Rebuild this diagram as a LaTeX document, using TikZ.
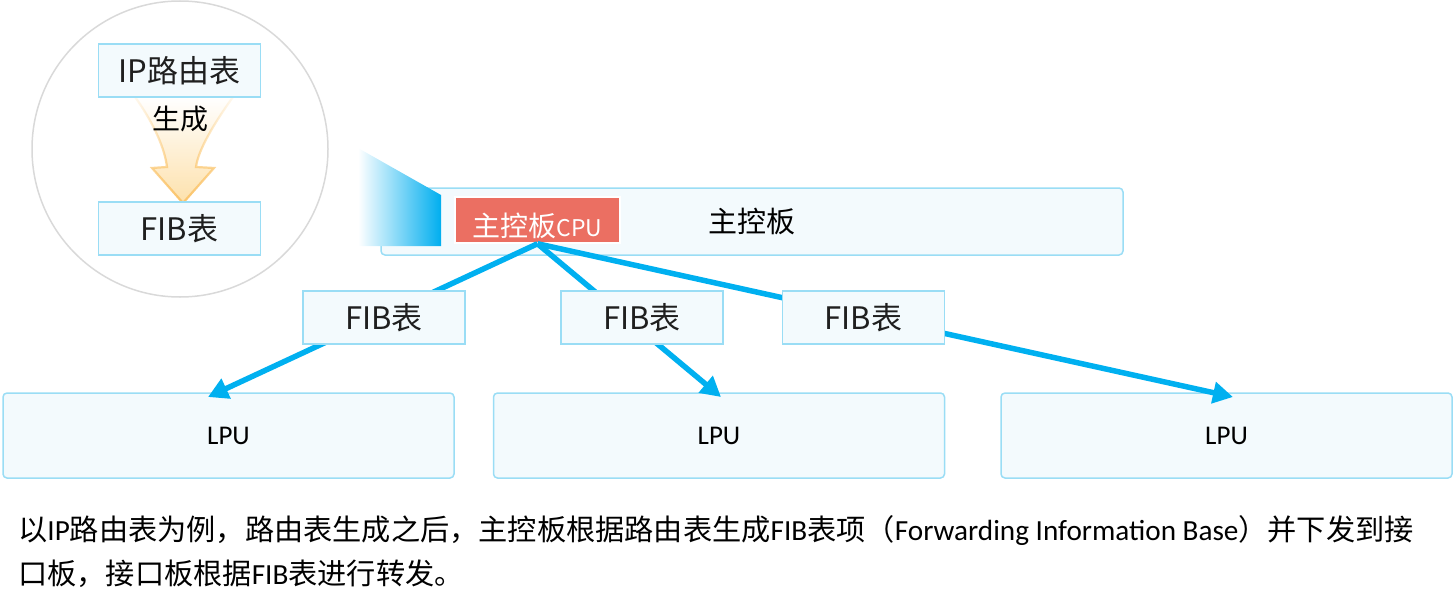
\documentclass[tikz,border=0pt]{standalone}
\usepackage{fontspec}
\setmainfont{Carlito}
\newfontfamily\cjk{Noto Sans CJK SC}
\usetikzlibrary{arrows.meta,fadings,calc}
\definecolor{boxline}{HTML}{9ADDF5}
\definecolor{boxfill}{HTML}{F3FAFD}
\definecolor{linkblue}{HTML}{00B0F0}
\definecolor{trapblue}{HTML}{00AEEF}
\definecolor{cpured}{HTML}{EB6F62}
\definecolor{ringgray}{HTML}{D9D9D9}
\definecolor{arroworange}{HTML}{FBC46A}
\definecolor{arrowfill}{HTML}{FDE1AC}
\tikzfading[name=fadedown, top color=transparent!90, bottom color=transparent!0]
\begin{document}
\begin{tikzpicture}[x=1pt,y=-1pt,
  fibbox/.style={draw=boxline, fill=boxfill, line width=1.5pt, minimum width=162pt, minimum height=53pt, inner sep=0pt, font=\cjk\fontsize{31}{36}\selectfont, text=black!88},
  lpubox/.style={draw=boxline, fill=boxfill, line width=1.5pt, rounded corners=4pt, minimum width=451pt, minimum height=85pt, inner sep=0pt, font=\fontsize{27}{32}\selectfont},
  linkarrow/.style={draw=linkblue, line width=5.5pt, -{Triangle[length=20pt,width=21pt]}},
  note/.style={anchor=base west, inner sep=0pt, font=\fontsize{29.2}{34}\selectfont}
]
\useasboundingbox (0,0) rectangle (1453,610);

% magnifier circle
\node[circle, draw=ringgray, line width=1.5pt, minimum size=296pt, inner sep=0pt] (ring) at (180,149) {};

% generation arrow
\shade[top color=white, bottom color=arrowfill]
  (135,97) .. controls (155,125) and (165,150) .. (167,167) -- (152,168) -- (183,203) -- (214,168) -- (196,167)
  .. controls (198,150) and (215,122) .. (233,97) -- cycle;
\draw[arroworange, line width=2.2pt, path fading=fadedown]
  (135,97) .. controls (155,125) and (165,150) .. (167,167) -- (152,168) -- (183,203) -- (214,168) -- (196,167)
  .. controls (198,150) and (215,122) .. (233,97);
\node[inner sep=0pt, font=\cjk\fontsize{28}{32}\selectfont] (gen) at (180,119) {生成};

\node[fibbox] (ip) at (179.5,70.5) {IP路由表};
\node[fibbox] (fibc) at (179.5,228.5) {FIB表};

% main board
\node[draw=boxline, fill=boxfill, line width=1.5pt, rounded corners=4pt, minimum width=742pt, minimum height=67pt, inner sep=0pt, font=\cjk\fontsize{29}{34}\selectfont] (main) at (752,221.5) {主控板};
\shade[left color=white, right color=trapblue] (358,148) -- (441,195) -- (441,246) -- (358,246) -- cycle;
\node[draw=white, fill=cpured, line width=1.5pt, minimum width=165pt, minimum height=46pt, inner sep=0pt] (cpu) at (537.5,220) {};
\node[inner sep=0pt, text=white, font=\cjk\fontsize{28}{32}\selectfont] (cputext) at ($(cpu.center)+(0,6)$) {主控板\fontsize{23}{28}\selectfont CPU};

% line cards
\node[lpubox] (lpu1) at (228.5,435.5) {LPU};
\node[lpubox] (lpu2) at (719,435.5) {LPU};
\node[lpubox] (lpu3) at (1226.5,435.5) {LPU};

\coordinate (t1) at (208,397);
\coordinate (t2) at (721,397);
\coordinate (t3) at (1233,397);
\draw[linkarrow] (cpu.south) -- (t1);
\draw[linkarrow] (cpu.south) -- (t2);
\draw[linkarrow] (cpu.south) -- (t3);

\node[fibbox] (fib1) at (384,317.5) {FIB表};
\node[fibbox] (fib2) at (642,317.5) {FIB表};
\node[fibbox] (fib3) at (863.5,317.5) {FIB表};

% caption
\node[note] (line1) at (18,540) {{\cjk 以}IP{\cjk 路由表为例，路由表生成之后，主控板根据路由表生成}FIB{\cjk 表项（}Forwarding Information Base{\cjk ）并下发到接}};
\node[note] (line2) at (18,584) {{\cjk 口板，接口板根据}FIB{\cjk 表进行转发。}};
\end{tikzpicture}
\end{document}
